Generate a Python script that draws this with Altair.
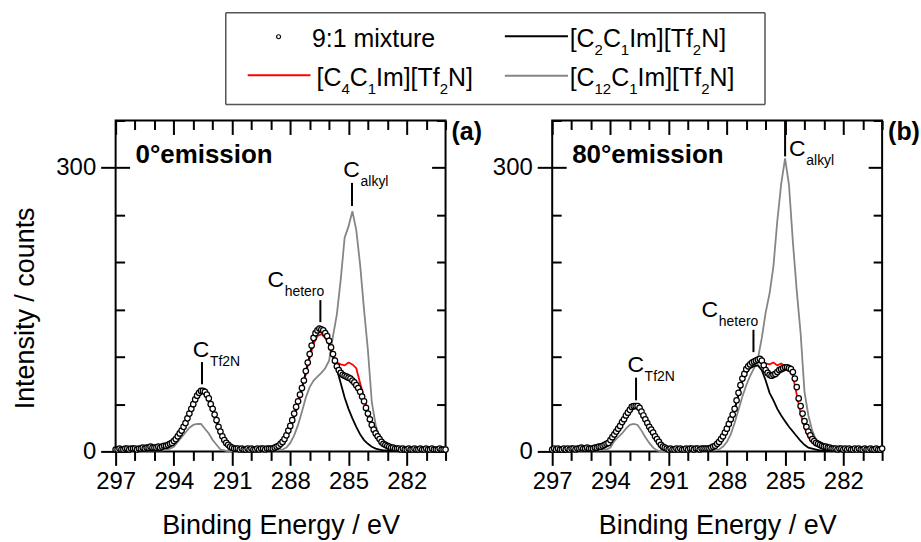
import re

import altair as alt
import numpy as np
import pandas as pd

FONT = "Liberation Sans"

# Binding-energy grids (eV): mixture every 0.1 eV, neat liquids every 0.2 eV
E_MIX = np.round(np.arange(297.0, 279.95, -0.1), 1)
E_REF = np.round(np.arange(297.0, 279.95, -0.2), 1)

# ---------------- (a) 0° emission ----------------
MIX_0 = [
    2, 2, 3, 2, 2, 3, 3, 2, 3, 3,
    3, 2, 3, 3, 4, 3, 4, 4, 5, 4,
    4, 4, 5, 4, 5, 6, 6, 7, 8, 9,
    11, 13, 16, 19, 22, 26, 30, 35, 40, 45,
    50, 55, 59, 62, 64, 64, 63, 60, 56, 50,
    45, 39, 33, 26, 21, 16, 12, 9, 7, 5,
    4, 3, 3, 3, 2, 3, 2, 2, 3, 2,
    3, 2, 2, 3, 2, 3, 3, 2, 3, 3,
    3, 3, 4, 5, 6, 8, 10, 13, 17, 22,
    27, 33, 40, 47, 53, 60, 67, 75, 85, 94,
    103, 112, 120, 125, 128, 130, 129, 128, 125, 122,
    117, 110, 103, 96, 90, 86, 83, 81, 80, 79,
    78, 77, 75, 73, 70, 67, 63, 58, 53, 46,
    40, 34, 28, 23, 19, 16, 13, 10, 8, 7,
    6, 5, 4, 4, 3, 3, 3, 2, 3, 2,
    2, 3, 2, 2, 3, 2, 2, 3, 2, 2,
    3, 2, 2, 3, 2, 2, 2, 3, 2, 2,
    2,
]
C2_0 = [
    1, 1, 2, 1, 1, 2, 1, 2, 2, 2,
    2, 3, 3, 4, 6, 9, 14, 20, 28, 38,
    49, 58, 63, 62, 55, 44, 32, 20, 11, 5,
    3, 2, 2, 1, 2, 1, 2, 1, 2, 2,
    3, 5, 7, 11, 16, 26, 38, 52, 67, 84,
    102, 119, 127, 129, 124, 114, 100, 87, 72, 57,
    45, 35, 26, 18, 12, 8, 5, 3, 2, 1,
    1, 1, 1, 0, 1, 0, 1, 0, 1, 0,
    1, 0, 1, 0, 1, 0,
]
C4_0 = [
    1, 2, 1, 2, 2, 1, 2, 2, 3, 2,
    3, 3, 4, 5, 7, 10, 15, 21, 29, 39,
    49, 57, 62, 61, 54, 44, 32, 20, 11, 5,
    3, 2, 2, 2, 1, 2, 1, 2, 2, 1,
    2, 4, 6, 10, 15, 24, 36, 50, 65, 82,
    99, 114, 122, 124, 120, 113, 103, 94, 92, 91,
    94, 92, 88, 72, 57, 43, 28, 18, 12, 7,
    4, 3, 2, 2, 1, 1, 1, 2, 1, 1,
    1, 1, 1, 1, 1, 1,
]
C12_0 = [
    0, 0, 1, 0, 0, 1, 0, 1, 1, 1,
    1, 1, 1, 2, 3, 5, 10, 15, 20, 25,
    28, 29, 29, 24, 19, 12, 7, 2, 1, 0,
    0, 1, 0, 0, 1, 0, 0, 1, 0, 1,
    1, 1, 1, 2, 4, 9, 17, 28, 42, 57,
    68, 75, 79, 83, 88, 96, 122, 145, 182, 226,
    238, 254, 234, 197, 150, 107, 52, 28, 14, 8,
    4, 2, 1, 1, 1, 0, 1, 0, 1, 0,
    0, 1, 0, 0, 1, 0,
]

# ---------------- (b) 80° emission ----------------
MIX_80 = [
    2, 3, 2, 3, 2, 2, 3, 2, 3, 2,
    3, 3, 2, 3, 3, 4, 3, 3, 4, 3,
    3, 3, 4, 4, 5, 5, 6, 7, 8, 9,
    12, 15, 18, 21, 24, 27, 31, 34, 38, 41,
    44, 47, 48, 48, 48, 46, 42, 38, 34, 30,
    26, 23, 20, 16, 13, 10, 7, 5, 4, 3,
    2, 3, 2, 2, 3, 2, 3, 2, 2, 3,
    2, 3, 3, 2, 3, 3, 2, 3, 3, 3,
    3, 3, 4, 5, 6, 8, 10, 13, 16, 20,
    24, 29, 34, 39, 45, 54, 62, 70, 77, 82,
    87, 90, 92, 94, 95, 96, 97, 98, 96, 91,
    86, 83, 81, 80, 81, 82, 84, 86, 87, 88,
    89, 89, 88, 87, 84, 77, 68, 56, 48, 40,
    32, 26, 21, 17, 13, 11, 9, 8, 7, 6,
    5, 5, 4, 4, 3, 3, 3, 2, 3, 3,
    2, 3, 2, 3, 2, 2, 3, 2, 3, 2,
    2, 3, 2, 2, 3, 2, 2, 3, 2, 2,
    3,
]
C2_80 = [
    1, 1, 1, 2, 1, 1, 2, 1, 2, 2,
    2, 3, 4, 5, 7, 11, 16, 22, 29, 36,
    42, 46, 47, 41, 33, 25, 18, 11, 6, 3,
    2, 1, 2, 1, 1, 2, 1, 1, 2, 2,
    3, 4, 6, 10, 15, 23, 33, 44, 60, 75,
    83, 88, 90, 91, 86, 75, 62, 54, 45, 38,
    32, 26, 21, 16, 11, 7, 4, 3, 2, 1,
    1, 1, 0, 1, 0, 1, 0, 1, 0, 1,
    0, 1, 0, 0, 1, 0,
]
C4_80 = [
    1, 2, 1, 1, 2, 2, 1, 2, 2, 2,
    2, 3, 4, 5, 7, 11, 16, 22, 29, 37,
    43, 47, 48, 42, 34, 26, 19, 12, 6, 3,
    2, 2, 1, 2, 1, 2, 1, 2, 1, 2,
    2, 3, 5, 9, 14, 22, 33, 45, 61, 77,
    86, 90, 93, 95, 96, 93, 92, 94, 91, 93,
    90, 88, 80, 60, 40, 25, 15, 9, 6, 4,
    3, 2, 2, 1, 1, 1, 1, 1, 1, 1,
    1, 1, 1, 1, 1, 1,
]
C12_80 = [
    0, 1, 0, 0, 1, 0, 1, 0, 1, 1,
    1, 1, 1, 2, 2, 4, 11, 15, 19, 24,
    28, 29, 28, 22, 15, 9, 4, 1, 0, 0,
    1, 0, 0, 1, 0, 0, 1, 0, 1, 0,
    1, 1, 1, 2, 5, 10, 18, 30, 44, 58,
    70, 80, 88, 98, 120, 147, 167, 196, 244, 283,
    310, 282, 222, 170, 125, 63, 38, 22, 12, 7,
    4, 2, 1, 1, 1, 0, 1, 0, 0, 1,
    0, 1, 0, 1, 0, 0,
]

# Peak labels: subscript, label anchor (E, I), tick E, tick from/to I
PEAKS_0 = [
    ("Tf2N", 292.6, 99.8, 292.55, 71, 94.5),
    ("hetero", 288.75, 174.3, 286.45, 136.7, 160),
    ("alkyl", 284.84, 290.2, 284.82, 259.6, 284),
]
PEAKS_80 = [
    ("Tf2N", 292.7, 84, 292.68, 54, 78),
    ("hetero", 288.88, 142, 286.63, 105, 128.6),
    ("alkyl", 284.37, 312.4, 285.0, 312, 350),
]

SERIES = ["9:1 mixture", "[C_2C_1Im][Tf_2N]", "[C_4C_1Im][Tf_2N]", "[C_12C_1Im][Tf_2N]"]
GRAY = "#858585"

MAJOR_X = [297, 294, 291, 288, 285, 282]
MINOR_X = [v for v in range(280, 298) if v not in MAJOR_X]
MAJOR_Y = [0, 300]
MINOR_Y = [50, 100, 150, 200, 250, 350]

W, H = 331, 332
XS = alt.Scale(domain=[280, 297], reverse=True, nice=False, zero=False)
YS = alt.Scale(domain=[0, 350], nice=False, zero=False)

AX = dict(domain=False, grid=False, tickColor="black", tickWidth=2,
          labelFont=FONT, labelFontSize=24, labelColor="black",
          labelFlush=False, labelOverlap=False,
          titleFont=FONT, titleFontSize=27, titleColor="black",
          titleFontWeight="normal")

anchor = pd.DataFrame({"E": [290.0], "I": [100.0]})


def x_axis(**kw):
    return alt.Chart(anchor).mark_point(opacity=0).encode(
        x=alt.X("E:Q", scale=XS, axis=alt.Axis(**AX, **kw)),
        y=alt.Y("I:Q", scale=YS, axis=None),
    )


def y_axis(**kw):
    return alt.Chart(anchor).mark_point(opacity=0).encode(
        x=alt.X("E:Q", scale=XS, axis=None),
        y=alt.Y("I:Q", scale=YS, axis=alt.Axis(**AX, **kw)),
    )


def frame_axes(ytitle):
    quiet = dict(labels=False, title=None)
    layers = [
        # bottom: labelled majors and minor ticks, pointing out
        x_axis(orient="bottom", values=MAJOR_X, tickSize=14, labelPadding=4,
               format="d", title="Binding Energy / eV", titlePadding=19),
        x_axis(orient="bottom", values=MINOR_X, tickSize=9, **quiet),
        # top edge: ticks pointing in
        x_axis(orient="bottom", offset=-H, values=MAJOR_X, tickSize=14, **quiet),
        x_axis(orient="bottom", offset=-H, values=MINOR_X, tickSize=9, **quiet),
        # left edge: ticks pointing in
        y_axis(orient="right", offset=-W, values=MAJOR_Y, tickSize=14, **quiet),
        y_axis(orient="right", offset=-W, values=MINOR_Y, tickSize=9, **quiet),
        # right edge: ticks pointing in
        y_axis(orient="left", offset=-W, values=MAJOR_Y, tickSize=14, **quiet),
        y_axis(orient="left", offset=-W, values=MINOR_Y, tickSize=9, **quiet),
    ]
    left = dict(orient="left", values=MAJOR_Y, tickSize=15, labelPadding=5, format="d")
    if ytitle:
        layers.append(y_axis(**left, title=ytitle, titlePadding=16, titleY=188))
    else:
        layers.append(y_axis(**left, title=None))
    return layers


def panel(mix, c2, c4, c12, peaks, emission, tag, ytitle):
    ref = pd.DataFrame({"E": E_REF, "c2": c2, "c4": c4, "c12": c12})
    mixdf = pd.DataFrame({"E": E_MIX, "I": mix})

    def spectrum(col, color):
        return alt.Chart(ref).mark_line(color=color, strokeWidth=1.8).encode(
            x=alt.X("E:Q", scale=XS, axis=None),
            y=alt.Y(f"{col}:Q", scale=YS, axis=None),
        )

    circles = alt.Chart(mixdf).mark_point(
        shape="circle", filled=True, fill="white", stroke="black",
        strokeWidth=1.25, size=30, opacity=1,
    ).encode(
        x=alt.X("E:Q", scale=XS, axis=None),
        y=alt.Y("I:Q", scale=YS, axis=None),
    )

    pk = pd.DataFrame(peaks, columns=["sub", "lx", "ly", "tx", "t1", "t2"])
    pk["main"] = "C"
    ticks = alt.Chart(pk).mark_rule(color="black", strokeWidth=2).encode(
        x=alt.X("tx:Q", scale=XS, axis=None),
        y=alt.Y("t1:Q", scale=YS, axis=None),
        y2="t2:Q",
    )
    cmain = alt.Chart(pk).mark_text(
        font=FONT, fontSize=23, align="center", baseline="alphabetic", color="black"
    ).encode(
        x=alt.X("lx:Q", scale=XS, axis=None),
        y=alt.Y("ly:Q", scale=YS, axis=None),
        text="main:N",
    )
    csub = alt.Chart(pk).mark_text(
        font=FONT, fontSize=14, align="left", baseline="alphabetic",
        color="black", dx=9, dy=9,
    ).encode(
        x=alt.X("lx:Q", scale=XS, axis=None),
        y=alt.Y("ly:Q", scale=YS, axis=None),
        text="sub:N",
    )

    one = pd.DataFrame({"t": [emission]})
    emis = alt.Chart(one).mark_text(
        font=FONT, fontSize=26, fontWeight="bold", align="left",
        baseline="alphabetic", color="black",
    ).encode(x=alt.value(20), y=alt.value(43), text="t:N")

    lab = alt.Chart(pd.DataFrame({"t": [tag]})).mark_text(
        font=FONT, fontSize=25, fontWeight="bold", align="left",
        baseline="top", color="black",
    ).encode(x=alt.value(W + 6), y=alt.value(0), text="t:N")

    layers = frame_axes(ytitle) + [
        spectrum("c12", GRAY),
        spectrum("c4", "red"),
        spectrum("c2", "black"),
        circles,
        ticks, cmain, csub, emis, lab,
    ]
    return (
        alt.layer(*layers)
        .resolve_axis(x="independent", y="independent")
        .properties(width=W, height=H)
    )


# ---------------- legend (pixel layout, origin aligned with the left panel) ----------------
LEG_MAIN, LEG_SUB = 25, 15
AFM = {"[": 278, "]": 278, "C": 722, "I": 278, "m": 833, "T": 611, "f": 278, "N": 722}
AFM.update({d: 556 for d in "0123456789"})


def formula_pieces(label, x0, base):
    """Split '[C_2C_1Im]...' into normal and subscript runs placed side by side."""
    parts = re.split(r"_(\d+)", label)
    rows, x = [], x0
    for i, s in enumerate(parts):
        if not s:
            continue
        sub = i % 2 == 1
        size = LEG_SUB if sub else LEG_MAIN
        rows.append({"x": x, "y": base + (8 if sub else 0), "t": s, "sub": sub})
        x += sum(AFM[ch] for ch in s) * size / 1000.0
    return rows


rows = [{"x": 197, "y": 40, "t": SERIES[0], "sub": False}]
rows += formula_pieces(SERIES[1], 455.5, 40)
rows += formula_pieces(SERIES[2], 201.5, 79)
rows += formula_pieces(SERIES[3], 455.5, 79)
pieces = pd.DataFrame(rows)

one = pd.DataFrame({"k": [0]})
BOX = dict(x1=110.5, x2=651.5, y1=6, y2=98)


def rule(color, width, **enc):
    return alt.Chart(one).mark_rule(color=color, strokeWidth=width).encode(
        **{k: alt.value(v) for k, v in enc.items()}
    )


box = [
    rule("#555555", 1.5, x=BOX["x1"], x2=BOX["x2"], y=BOX["y1"]),
    rule("#555555", 1.5, x=BOX["x1"], x2=BOX["x2"], y=BOX["y2"]),
    rule("#555555", 1.5, x=BOX["x1"], y=BOX["y1"], y2=BOX["y2"]),
    rule("#555555", 1.5, x=BOX["x2"], y=BOX["y1"], y2=BOX["y2"]),
]

dot = alt.Chart(one).mark_point(
    shape="circle", filled=True, fill="white", stroke="black", strokeWidth=1.2, size=16, opacity=1
).encode(x=alt.value(163.5), y=alt.value(30))


def legend_text(sub, size):
    return alt.Chart(pieces[pieces["sub"] == sub]).mark_text(
        font=FONT, fontSize=size, align="left", baseline="alphabetic", color="black"
    ).encode(
        x=alt.X("x:Q", scale=None, axis=None),
        y=alt.Y("y:Q", scale=None, axis=None),
        text="t:N",
    )


legend = alt.layer(
    *box,
    rule("black", 2, x=390.5, x2=453.8, y=29.5),
    rule("red", 2, x=132.5, x2=195.5, y=68.5),
    rule(GRAY, 2, x=390.5, x2=453.8, y=69),
    dot,
    legend_text(False, LEG_MAIN),
    legend_text(True, LEG_SUB),
).properties(width=660, height=100, view=alt.ViewBackground(stroke="transparent"))

pa = panel(MIX_0, C2_0, C4_0, C12_0, PEAKS_0, "0°emission", "(a)", "Intensity / counts")
pb = panel(MIX_80, C2_80, C4_80, C12_80, PEAKS_80, "80°emission", "(b)", None)

chart = (
    alt.vconcat(legend, alt.hconcat(pa, pb, spacing=7), spacing=11)
    .properties(padding={"left": 10, "top": 5, "right": 0, "bottom": 0}, background="white")
    .configure(font=FONT)
    .configure_view(stroke="black", strokeWidth=2)
)

chart.save("out.html", embed_options={"renderer": "svg", "actions": False})
